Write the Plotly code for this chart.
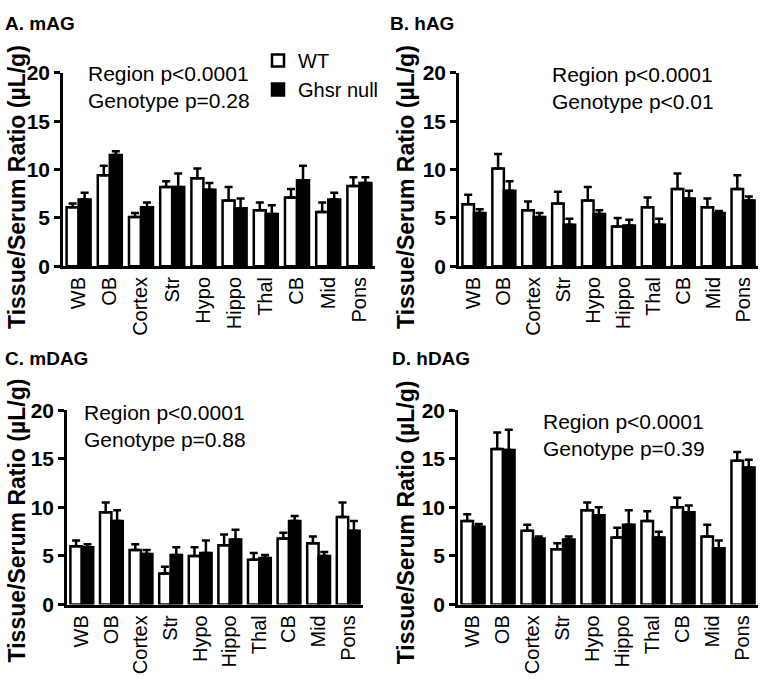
import plotly.graph_objects as go

W, H = 761, 688

regions = ["WB", "OB", "Cortex", "Str", "Hypo", "Hippo", "Thal", "CB", "Mid", "Pons"]

# Panel A: mAG
mAG_wt_mean = [6.1, 9.4, 5.1, 8.2, 9.1, 6.8, 5.8, 7.1, 5.6, 8.3]
mAG_wt_sem = [0.4, 1.0, 0.4, 0.6, 1.0, 1.4, 0.8, 0.9, 1.0, 0.9]
mAG_ko_mean = [6.9, 11.5, 6.1, 8.2, 7.9, 6.0, 5.4, 8.9, 6.9, 8.6]
mAG_ko_sem = [0.7, 0.4, 0.5, 1.4, 0.7, 1.0, 0.9, 1.5, 0.7, 0.6]

# Panel B: hAG
hAG_wt_mean = [6.4, 10.1, 5.8, 6.5, 6.8, 4.1, 6.1, 8.0, 6.1, 8.0]
hAG_wt_sem = [1.0, 1.5, 0.9, 1.2, 1.4, 0.9, 1.0, 1.6, 0.9, 1.4]
hAG_ko_mean = [5.5, 7.8, 5.1, 4.3, 5.4, 4.2, 4.3, 7.0, 5.5, 6.8]
hAG_ko_sem = [0.4, 1.0, 0.4, 0.6, 0.4, 0.6, 0.6, 0.8, 0.2, 0.4]

# Panel C: mDAG
mDAG_wt_mean = [6.0, 9.5, 5.6, 3.2, 5.0, 6.1, 4.6, 6.8, 6.3, 9.0]
mDAG_wt_sem = [0.6, 1.0, 0.6, 0.7, 0.9, 1.1, 0.7, 0.6, 0.7, 1.5]
mDAG_ko_mean = [5.9, 8.6, 5.2, 5.1, 5.3, 6.7, 4.8, 8.6, 5.0, 7.6]
mDAG_ko_sem = [0.3, 1.1, 0.4, 0.8, 1.3, 1.0, 0.3, 0.5, 0.4, 1.0]

# Panel D: hDAG
hDAG_wt_mean = [8.6, 16.0, 7.6, 5.7, 9.7, 6.9, 8.6, 10.0, 7.0, 14.8]
hDAG_wt_sem = [0.7, 1.7, 0.6, 0.6, 0.8, 1.0, 1.0, 1.0, 1.2, 0.9]
hDAG_ko_mean = [8.0, 15.9, 6.8, 6.7, 9.2, 8.2, 6.9, 9.5, 5.8, 14.1]
hDAG_ko_sem = [0.3, 2.1, 0.2, 0.3, 0.8, 1.5, 0.6, 0.7, 0.8, 0.8]

panel_titles = ["A. mAG", "B. hAG", "C. mDAG", "D. hDAG"]
stats_region = ["Region p<0.0001"] * 4
stats_genotype = ["Genotype p=0.28", "Genotype p<0.01", "Genotype p=0.88", "Genotype p=0.39"]
y_ticks = [0, 5, 10, 15, 20]
y_title = "Tissue/Serum Ratio (µL/g)"
series_names = ["WT", "Ghsr null"]

panels = [
    (mAG_wt_mean, mAG_wt_sem, mAG_ko_mean, mAG_ko_sem),
    (hAG_wt_mean, hAG_wt_sem, hAG_ko_mean, hAG_ko_sem),
    (mDAG_wt_mean, mDAG_wt_sem, mDAG_ko_mean, mDAG_ko_sem),
    (hDAG_wt_mean, hDAG_wt_sem, hDAG_ko_mean, hDAG_ko_sem),
]

FONT = "Arial, Liberation Sans, Helvetica, sans-serif"

def px_x(x):
    return x / W

def px_y(y):
    return 1 - y / H

# plot-area pixel boxes: (left, right, top(val 20), bottom(val 0))
boxes = [
    (63, 375, 63, 263),
    (459, 758, 63, 263),
    (67, 363, 412, 613),
    (458, 758, 412, 613),
]

fig = go.Figure()
layout = {}
for i, (wt_m, wt_s, ko_m, ko_s) in enumerate(panels):
    n = "" if i == 0 else str(i + 1)
    xa, ya = "x" + n, "y" + n
    show = i == 0
    fig.add_trace(go.Bar(
        x=regions, y=wt_m, name=series_names[0], legendgroup="wt", showlegend=show,
        marker=dict(color="white", line=dict(color="black", width=2.5)),
        error_y=dict(type="data", array=wt_s, arrayminus=[0] * len(wt_s), symmetric=False,
                     color="black", thickness=2.5, width=4),
        xaxis=xa, yaxis=ya,
    ))
    fig.add_trace(go.Bar(
        x=regions, y=ko_m, name=series_names[1], legendgroup="ko", showlegend=show,
        marker=dict(color="black", line=dict(color="black", width=2.5)),
        error_y=dict(type="data", array=ko_s, arrayminus=[0] * len(ko_s), symmetric=False,
                     color="black", thickness=2.5, width=4),
        xaxis=xa, yaxis=ya,
    ))
    l, r, t, b = boxes[i]
    layout["xaxis" + n] = dict(
        domain=[px_x(l), px_x(r)], anchor=ya, type="category",
        range=[-0.5, len(regions) - 0.5],
        showline=True, linecolor="black", linewidth=2.5, ticks="",
        tickangle=-90, tickfont=dict(family=FONT, size=20, color="black"),
        showgrid=False, zeroline=False, fixedrange=True,
    )
    layout["yaxis" + n] = dict(
        domain=[px_y(b), px_y(t)], anchor=xa, range=[0, 20],
        tickvals=y_ticks, ticktext=["<b>%d</b>" % v for v in y_ticks],
        showline=True, linecolor="black", linewidth=2.5,
        ticks="outside", ticklen=6, tickwidth=2.5, tickcolor="black",
        tickfont=dict(family=FONT, size=21, color="black"),
        showgrid=False, zeroline=False, fixedrange=True,
    )

fig.update_layout(**layout)

annotations = []
# panel titles
title_pos = [(3, 12), (388, 12), (3, 358), (390, 358)]
for txt, (x, y) in zip(panel_titles, title_pos):
    annotations.append(dict(
        text="<b>" + txt + "</b>", x=px_x(x), y=px_y(y), xref="paper", yref="paper",
        xanchor="left", yanchor="middle", showarrow=False,
        font=dict(family=FONT, size=19, color="black"),
    ))
# y titles
ytitle_pos = [(17, 181), (406, 181), (17, 526), (406, 528)]
for (x, y) in ytitle_pos:
    annotations.append(dict(
        text="<b>" + y_title + "</b>", x=px_x(x), y=px_y(y), xref="paper", yref="paper",
        xanchor="center", yanchor="middle", textangle=-90, showarrow=False,
        font=dict(family=FONT, size=23, color="black"),
    ))
# stats text (two lines in one block; centre of the block in px)
stat_pos = [(86, 78), (550, 79), (82, 428), (541, 438)]
for i, (x, y) in enumerate(stat_pos):
    annotations.append(dict(
        text=stats_region[i] + "<br>" + stats_genotype[i],
        x=px_x(x), y=px_y(y), xref="paper", yref="paper",
        xanchor="left", yanchor="middle", align="left", showarrow=False,
        font=dict(family=FONT, size=21, color="black"),
    ))

fig.update_layout(
    width=W, height=H,
    margin=dict(l=0, r=0, t=0, b=0),
    paper_bgcolor="white", plot_bgcolor="white",
    barmode="group", bargap=0.23, bargroupgap=0,
    annotations=annotations,
    showlegend=True,
    legend=dict(
        x=px_x(258), y=px_y(30), xanchor="left", yanchor="top",
        font=dict(family=FONT, size=20, color="black"),
        bgcolor="rgba(0,0,0,0)", tracegroupgap=0, itemclick=False, itemdoubleclick=False,
    ),
    font=dict(family=FONT, color="black"),
)

fig.write_html(
    "out.html",
    config={"displayModeBar": False},
    post_script="document.body.style.margin='0';document.body.style.padding='0';document.body.style.overflow='hidden';",
)
